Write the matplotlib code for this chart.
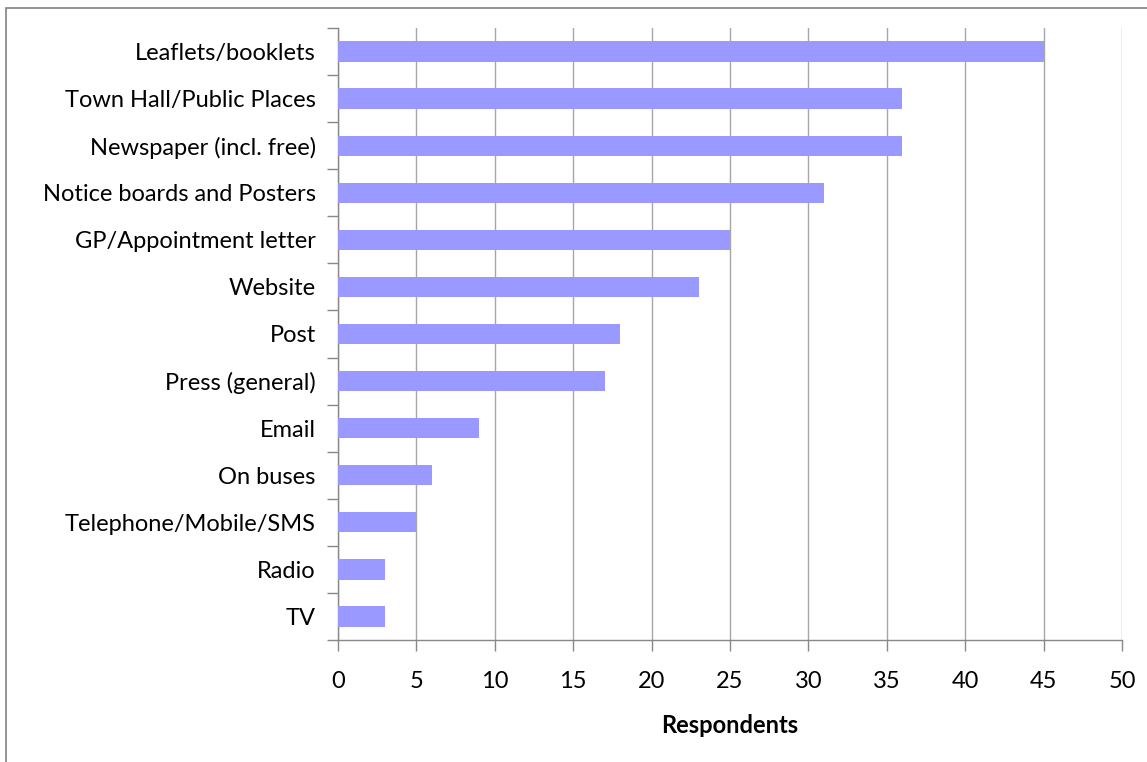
import matplotlib
matplotlib.use("Agg")
import matplotlib.pyplot as plt
from matplotlib.patches import Rectangle
import numpy as np

categories = ["Leaflets/booklets", "Town Hall/Public Places", "Newspaper (incl. free)",
              "Notice boards and Posters", "GP/Appointment letter", "Website", "Post",
              "Press (general)", "Email", "On buses", "Telephone/Mobile/SMS", "Radio", "TV"]
values = [45, 36, 36, 31, 25, 23, 18, 17, 9, 6, 5, 3, 3]
xticks = [0, 5, 10, 15, 20, 25, 30, 35, 40, 45, 50]

plt.rcParams['font.family'] = ['Lato', 'DejaVu Sans']

W, H, DPI = 1147, 762, 100
fig = plt.figure(figsize=(W / DPI, H / DPI), dpi=DPI)
ax = fig.add_axes([338 / W, 1 - 640 / H, (1122 - 338) / W, (640 - 28) / H])

n = len(categories)
ypos = np.arange(n)
ax.barh(ypos, values, height=0.43, color="#9999FF", zorder=3)
ax.set_ylim(n - 0.5, -0.5)
ax.set_xlim(0, 50)
ax.set_xticks(xticks)
ax.set_xticklabels([str(t) for t in xticks], fontsize=17)
ax.set_yticks(ypos)
ax.set_yticklabels(categories, fontsize=17)
ax.set_yticks(np.arange(n + 1) - 0.5, minor=True)
ax.tick_params(axis='y', which='major', length=0, pad=16)
ax.tick_params(axis='y', which='minor', length=8, width=1, color="#888888", direction='out')
ax.tick_params(axis='x', which='major', length=8, width=1, color="#888888", direction='out', pad=14)

ax.grid(axis='x', color="#A6A6A6", linewidth=1, zorder=0)
for s in ['top', 'right']:
    ax.spines[s].set_visible(False)
for s in ['left', 'bottom']:
    ax.spines[s].set_color("#888888")
    ax.spines[s].set_linewidth(1)

ax.set_xlabel("Respondents", fontsize=17, fontweight='bold', labelpad=16)

fig.patches.append(Rectangle((6 / W, -0.1), 1.2, 1 - 8 / H + 0.1, transform=fig.transFigure,
                             fill=False, edgecolor="#808080", linewidth=1.2))

fig.savefig("out.png", dpi=DPI)
